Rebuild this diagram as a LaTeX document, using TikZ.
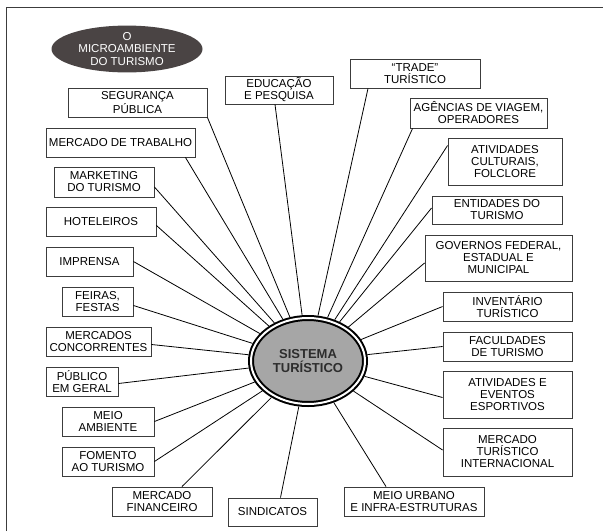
\documentclass[tikz,border=0pt]{standalone}
\usepackage{fontspec}
\setmainfont{Liberation Sans}
\usetikzlibrary{shapes.geometric,calc}
\definecolor{boxline}{RGB}{60,60,60}
\definecolor{darkell}{RGB}{74,68,68}
\definecolor{sysfill}{RGB}{166,166,166}
\definecolor{systext}{RGB}{45,45,45}
\tikzset{
  box/.style={draw=boxline, line width=0.9pt, fill=white, inner sep=0pt, align=center,
    font=\fontsize{11.5}{12}\selectfont},
  conn/.style={draw=black, line width=0.8pt},
}
\begin{document}
\begin{tikzpicture}[x=1pt,y=-1pt]
\useasboundingbox (0,0) rectangle (603,531);
% frame
\draw[line width=0.9pt, color=boxline] (6,531) -- (6,7) -- (603,7);
% title ellipse
\node[ellipse, fill=darkell, text=white, minimum width=151pt, minimum height=45pt, inner sep=0pt,
  align=center, font=\fontsize{11.5}{12.5}\selectfont] (title) at (127,49) {O\\MICROAMBIENTE\\DO TURISMO};
% boxes
\node[box, minimum width=139pt, minimum height=29pt] (seg) at (137.5,102.5) {SEGURANÇA\\PÚBLICA};
\node[box, minimum width=149pt, minimum height=29pt] (mt) at (120.5,142.5) {MERCADO DE TRABALHO};
\node[box, minimum width=100pt, minimum height=30pt] (mkt) at (104,182) {MARKETING\\DO TURISMO};
\node[box, minimum width=110pt, minimum height=29pt] (hot) at (101,221.5) {HOTELEIROS};
\node[box, minimum width=87pt, minimum height=29pt] (imp) at (89.5,261.5) {IMPRENSA};
\node[box, minimum width=71pt, minimum height=29pt] (fei) at (97.5,301.5) {FEIRAS,\\FESTAS};
\node[box, minimum width=105pt, minimum height=29pt] (mco) at (98.5,341.5) {MERCADOS\\CONCORRENTES};
\node[box, minimum width=72pt, minimum height=29pt] (pub) at (82,381.5) {PÚBLICO\\EM GERAL};
\node[box, minimum width=92pt, minimum height=29pt] (ma) at (108,421.5) {MEIO\\AMBIENTE};
\node[box, minimum width=92pt, minimum height=29pt] (fom) at (108,461.5) {FOMENTO\\AO TURISMO};
\node[box, minimum width=100pt, minimum height=29pt] (mfi) at (162,501.5) {MERCADO\\FINANCEIRO};
\node[box, minimum width=89pt, minimum height=28pt] (sin) at (272.5,512) {SINDICATOS};
\node[box, minimum width=140pt, minimum height=29pt] (urb) at (414,501.5) {MEIO URBANO\\E INFRA-ESTRUTURAS};
\node[box, minimum width=129pt, minimum height=48pt] (mti) at (507.5,452) {MERCADO\\TURÍSTICO\\INTERNACIONAL};
\node[box, minimum width=129pt, minimum height=47pt] (esp) at (507.5,394.5) {ATIVIDADES E\\EVENTOS\\ESPORTIVOS};
\node[box, minimum width=129pt, minimum height=29pt] (fac) at (507.5,346.5) {FACULDADES\\DE TURISMO};
\node[box, minimum width=129pt, minimum height=29pt] (inv) at (507.5,306.5) {INVENTÁRIO\\TURÍSTICO};
\node[box, minimum width=147pt, minimum height=46pt] (gov) at (498.5,258) {GOVERNOS FEDERAL,\\ESTADUAL E\\MUNICIPAL};
\node[box, minimum width=130pt, minimum height=28pt] (ent) at (497,210) {ENTIDADES DO\\TURISMO};
\node[box, minimum width=114pt, minimum height=47pt] (cul) at (505,161.5) {ATIVIDADES\\CULTURAIS,\\FOLCLORE};
\node[box, minimum width=137pt, minimum height=30pt] (age) at (478.5,113) {AGÊNCIAS DE VIAGEM,\\OPERADORES};
\node[box, minimum width=130pt, minimum height=29pt] (tra) at (415,73.5) {“TRADE”\\TURÍSTICO};
\node[box, minimum width=108pt, minimum height=28pt] (edu) at (279,90) {EDUCAÇÃO\\E PESQUISA};
% central ellipse
\node[ellipse, draw=black, line width=2pt, double=white, double distance=2pt, fill=sysfill,
  minimum width=114pt, minimum height=86pt, inner sep=0pt, outer sep=3pt, align=center,
  text=systext, font=\bfseries\fontsize{13}{14.5}\selectfont] (sys) at (308,361) {SISTEMA\\TURÍSTICO};
% connectors
\draw[conn] (seg.south east) -- (sys);
\draw[conn] ([xshift=-10pt]mt.south east) -- (sys);
\draw[conn] ([yshift=-5pt]mkt.east) -- (sys);
\draw[conn] ([yshift=-4pt]hot.east) -- (sys);
\draw[conn] (imp.east) -- (sys);
\draw[conn] ([yshift=-4pt]fei.east) -- (sys);
\draw[conn] ([yshift=-3pt]mco.east) -- (sys);
\draw[conn] ([yshift=-2pt]pub.east) -- (sys);
\draw[conn] (ma.east) -- (sys);
\draw[conn] (fom.east) -- (sys);
\draw[conn] ([xshift=20pt]mfi.north) -- (sys);
\draw[conn] ([xshift=8pt]sin.north) -- (sys);
\draw[conn] ([xshift=-28pt]urb.north) -- (sys);
\draw[conn] ([yshift=2pt]mti.west) -- (sys);
\draw[conn] ([yshift=-3pt]esp.west) -- (sys);
\draw[conn] (fac.west) -- (sys);
\draw[conn] (inv.west) -- (sys);
\draw[conn] ([yshift=-5pt]gov.west) -- (sys);
\draw[conn] ([yshift=2pt]ent.west) -- (sys);
\draw[conn] ([yshift=16pt]cul.west) -- (sys);
\draw[conn] ([xshift=3pt]age.south west) -- (sys);
\draw[conn] ([xshift=-47pt]tra.south) -- (sys);
\draw[conn] ([xshift=-4pt]edu.south) -- (sys);
\end{tikzpicture}
\end{document}
